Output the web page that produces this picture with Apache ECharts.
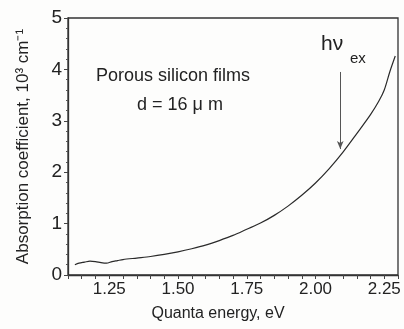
<!DOCTYPE html>
<html>
<head>
<meta charset="utf-8">
<script src="https://cdn.jsdelivr.net/npm/echarts@6/dist/echarts.min.js"></script>
<style>
  html, body { margin: 0; padding: 0; background: #fdfdfc; }
  #main { width: 404px; height: 329px; }
</style>
</head>
<body>
<div id="main"></div>
<script>
// photon energy, eV
var energy = [1.125, 1.14, 1.16, 1.18, 1.2, 1.22, 1.24, 1.26, 1.28, 1.3, 1.35, 1.4, 1.45, 1.5, 1.55, 1.6, 1.65,
  1.7, 1.75, 1.8, 1.85, 1.9, 1.95, 2.0, 2.05, 2.1, 2.15, 2.2, 2.23, 2.25, 2.27, 2.29];
// absorption coefficient, 10^3 cm^-1
var absorb = [0.2, 0.23, 0.25, 0.27, 0.26, 0.24, 0.23, 0.26, 0.28, 0.3, 0.33, 0.36, 0.4, 0.45, 0.51, 0.58, 0.67,
  0.77, 0.89, 1.01, 1.16, 1.34, 1.55, 1.79, 2.07, 2.39, 2.75, 3.12, 3.38, 3.6, 3.95, 4.26];
var xTicks = [1.25, 1.5, 1.75, 2.0, 2.25];

var pts = [];
for (var i = 0; i < energy.length; i++) {
  pts.push([energy[i], absorb[i]]);
}

var myChart = echarts.init(document.getElementById('main'));
var font = 'Liberation Sans, Arial, sans-serif';

var option = {
  backgroundColor: '#fdfdfc',
  animation: false,
  grid: {
    left: 68, right: 6, top: 18, bottom: 54,
    show: true, borderColor: '#333', borderWidth: 1.3
  },
  xAxis: {
    type: 'value',
    min: 1.1, max: 2.3, interval: 0.05,
    name: 'Quanta energy, eV',
    nameLocation: 'middle',
    nameGap: 31,
    nameTextStyle: { fontFamily: font, fontSize: 16, color: '#222', padding: [0, 30, 0, 0] },
    axisLine: { lineStyle: { color: '#333', width: 1.3 } },
    axisTick: { length: 4, lineStyle: { color: '#444' } },
    axisLabel: {
      fontFamily: font, fontSize: 17, color: '#222', margin: 6,
      formatter: function (v) {
        for (var k = 0; k < xTicks.length; k++) {
          if (Math.abs(v - xTicks[k]) < 1e-6) return xTicks[k].toFixed(2);
        }
        return '';
      }
    },
    splitLine: { show: false }
  },
  yAxis: {
    type: 'value',
    min: 0, max: 5, interval: 1,
    name: 'Absorption coefficient, 10³ cm⁻¹',
    nameLocation: 'middle',
    nameGap: 36,
    nameTextStyle: { fontFamily: font, fontSize: 17, color: '#222' },
    axisLine: { lineStyle: { color: '#333', width: 1.3 } },
    axisTick: { length: 4, lineStyle: { color: '#444' } },
    minorTick: { show: true, splitNumber: 5, length: 2, lineStyle: { color: '#555' } },
    axisLabel: { fontFamily: font, fontSize: 19, color: '#222', margin: 6 },
    splitLine: { show: false }
  },
  series: [{
    type: 'line',
    data: pts,
    showSymbol: false,
    smooth: 0.3,
    lineStyle: { color: '#2a2a2a', width: 1.2 },
    markLine: {
      silent: true,
      symbol: ['none', 'arrow'],
      symbolSize: [5, 8],
      label: { show: false },
      lineStyle: { color: '#555', width: 1, type: 'solid' },
      data: [[{ coord: [2.09, 3.95] }, { coord: [2.09, 2.45] }]]
    }
  }],
  graphic: [
    { type: 'text', left: 96, top: 67, style: { text: 'Porous silicon films', font: '18px ' + font, fill: '#222' } },
    { type: 'text', left: 137, top: 96, style: { text: 'd = 16 μ m', font: '18px ' + font, fill: '#222' } },
    { type: 'text', left: 321, top: 34, style: { text: 'hν', font: '21px ' + font, fill: '#222' } },
    { type: 'text', left: 350, top: 51, style: { text: 'ex', font: '15px ' + font, fill: '#222' } }
  ]
};

myChart.setOption(option);
</script>
</body>
</html>
